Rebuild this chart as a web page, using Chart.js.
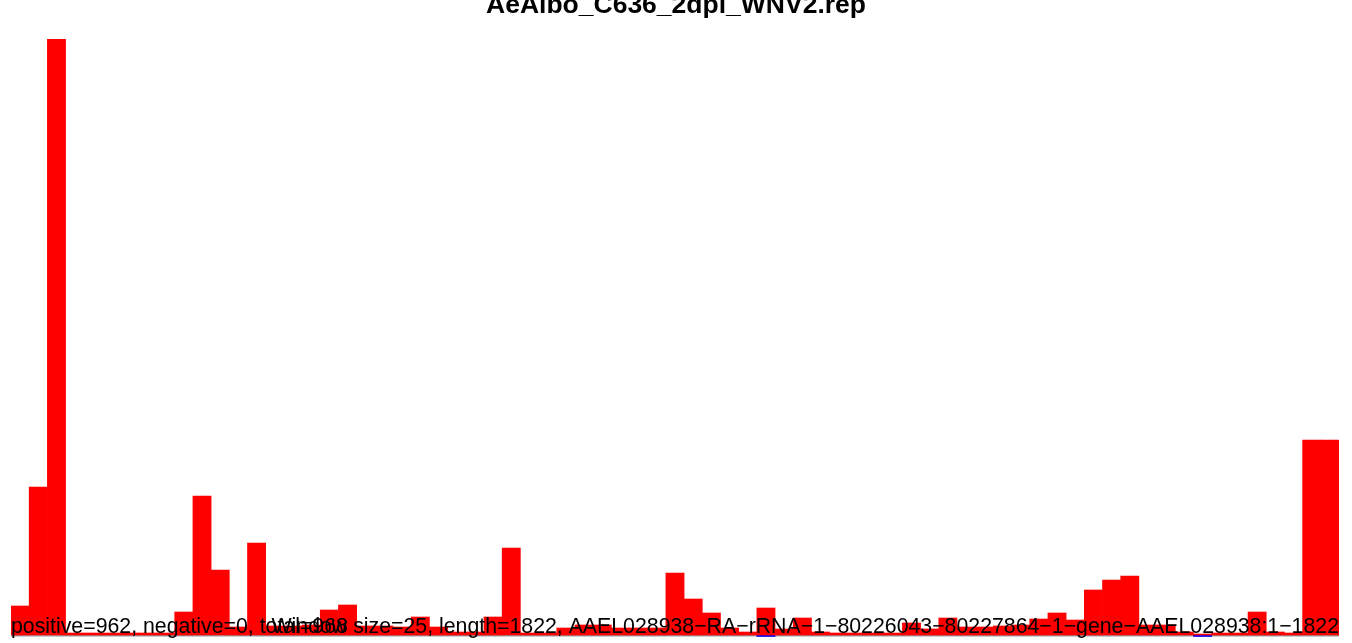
<!DOCTYPE html>
<html>
<head>
<meta charset="utf-8">
<script src="https://cdn.jsdelivr.net/npm/chart.js@4/dist/chart.umd.min.js"></script>
<style>
  html, body { margin: 0; padding: 0; background: #fff; }
  canvas { display: block; }
</style>
</head>
<body>
<canvas id="repChart" width="1352" height="643"></canvas>
<script>
const windowSize = 25;
const seqLength = 1822;

// window start positions (1, 26, 51, ...)
const windowStarts = [];
for (let s = 1; s <= seqLength; s += windowSize) windowStarts.push(s);

// reads per window
const positiveCounts = [
  29, 148, 596, 2, 2, 2, 2, 2, 2, 23,
  139, 65, 8, 92, 9, 9, 10, 25, 30, 9,
  9, 8, 18, 8, 3, 3, 18, 87, 2, 2,
  7, 10, 10, 7, 7, 7, 62, 36, 22, 7,
  3, 27, 6, 17, 3, 2, 2, 2, 2, 12,
  6, 17, 8, 8, 9, 10, 16, 22, 15, 45,
  55, 59, 10, 10, 3, 1, 2, 2, 23, 3,
  2, 195, 195
];
// only two windows show a tiny blue mark below the line
const negativeCounts = windowStarts.map(() => null);
negativeCounts[41] = -1.5;
negativeCounts[65] = -1.5;

const titleText = 'AeAlbo_C636_2dpi_WNV2.rep';
const leftNote = 'positive=962, negative=0, total=968';
const rightNote = 'Window size=25, length=1822, AAEL028938\u2212RA\u2212rRNA\u22121\u221280226043\u221280227864\u22121\u2212gene\u2212AAEL028938:1\u22121822';

// grey baseline under the bars
const baseline = {
  id: 'baseline',
  beforeDatasetsDraw(chart) {
    const { ctx, chartArea } = chart;
    const y0 = chart.scales.y.getPixelForValue(0);
    ctx.save();
    ctx.strokeStyle = '#999999';
    ctx.lineWidth = 1.5;
    ctx.beginPath();
    ctx.moveTo(chartArea.left, y0 + 0.75);
    ctx.lineTo(chartArea.right, y0 + 0.75);
    ctx.stroke();
    ctx.restore();
  }
};

// title (partly cut at the top) and the two notes at the bottom
const texts = {
  id: 'texts',
  afterDraw(chart) {
    const { ctx, chartArea } = chart;
    ctx.save();
    ctx.fillStyle = '#000';
    ctx.textBaseline = 'alphabetic';
    ctx.font = 'bold 26.5px "Liberation Sans", Arial, sans-serif';
    ctx.textAlign = 'center';
    ctx.fillText(titleText, chart.width / 2, 13);

    ctx.font = '21.3px "Liberation Sans", Arial, sans-serif';
    ctx.textAlign = 'left';
    ctx.fillText(leftNote, chartArea.left, 633);
    ctx.textAlign = 'right';
    ctx.fillText(rightNote, chartArea.right, 633);
    ctx.restore();
  }
};

const ctx = document.getElementById('repChart').getContext('2d');
new Chart(ctx, {
  type: 'bar',
  data: {
    labels: windowStarts,
    datasets: [
      {
        label: 'positive',
        data: positiveCounts,
        backgroundColor: '#ff0000',
        borderWidth: 0,
        categoryPercentage: 1.0,
        barPercentage: 1.0
      },
      {
        label: 'negative',
        data: negativeCounts,
        backgroundColor: '#0000ff',
        borderWidth: 0,
        categoryPercentage: 1.0,
        barPercentage: 1.0
      }
    ]
  },
  options: {
    responsive: false,
    devicePixelRatio: 1,
    animation: false,
    layout: { padding: { left: 11, right: 13, top: 39, bottom: 6 } },
    scales: {
      x: { display: false, stacked: true },
      y: { display: false, stacked: true, min: -2, max: 596 }
    },
    plugins: {
      legend: { display: false },
      tooltip: { enabled: false },
      title: { display: false }
    }
  },
  plugins: [baseline, texts]
});
</script>
</body>
</html>
